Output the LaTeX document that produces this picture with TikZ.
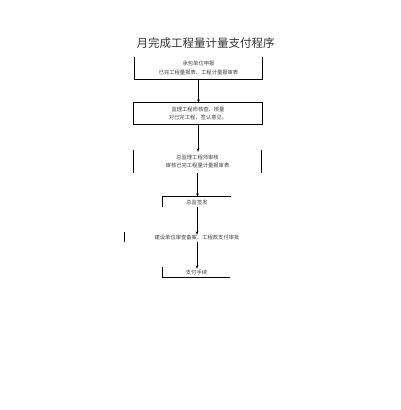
\documentclass[tikz,border=0pt]{standalone}
\usepackage{fontspec}
\newfontfamily\cjk{Noto Sans CJK SC}
\usetikzlibrary{arrows.meta}
\begin{document}
\begin{tikzpicture}[x=1pt,y=-1pt,
  txt/.style={font=\cjk\fontsize{5.3}{8.5}\selectfont, text=black!75, align=center, inner sep=0pt},
  frame/.style={line width=0.8pt, draw=black},
  arr/.style={line width=0.8pt, -{Stealth[length=3.5pt,width=2.6pt]}}]
\useasboundingbox[fill=white] (0,0) rectangle (400,410);
\node[font=\cjk\fontsize{11.5}{13}\selectfont, text=black!80] (title) at (205.5,43) {月完成工程量计量支付程序};
\node[txt, minimum width=127, minimum height=22] (b1) at (198.5,68) {承包单位申报\\已完工程量报表、工程计量报审表};
\node[txt, minimum width=128, minimum height=21] (b2) at (198,113.5) {监理工程师核查、核量\\对已完工程，签认意见。};
\node[txt, minimum width=127, minimum height=23] (b3) at (197.5,161.5) {总监理工程师审核\\审核已完工程量计量报审表};
\node[txt, minimum width=68, minimum height=10] (b4) at (197,202) {总监签发};
\node[txt, minimum width=144, minimum height=10] (b5) at (197,237) {建设单位审查备案、工程款支付审批};
\node[txt, minimum width=67, minimum height=10] (b6) at (196.5,272) {支付手续};
% partial frames
\draw[frame] (b1.north west) -- (b1.south west) -- (b1.south east) -- (b1.north east);
\draw[frame] (b2.north west) rectangle (b2.south east);
\draw[frame] (b3.north west) -- (b3.south west);
\draw[frame] (b3.north east) -- (b3.south east);
\draw[frame] (b4.south west) -- (b4.north west) -- (b4.north east);
\draw[frame] (b5.north west) -- (b5.south west);
\draw[frame] (b6.north west) -- (b6.south west) -- (b6.south east);
% connectors
\draw[arr] (b1.south) -- (b1.south |- b2.north);
\draw[arr] (b2.south) -- ([yshift=-2]b2.south |- b3.north);
\draw[arr] (b3.south) -- (b3.south |- b4.north);
\draw[arr] (b4.south) -- ([yshift=-3]b4.south |- b5.north);
\draw[arr] (b5.south) -- ([yshift=-2]b5.south |- b6.north);
\end{tikzpicture}
\end{document}
